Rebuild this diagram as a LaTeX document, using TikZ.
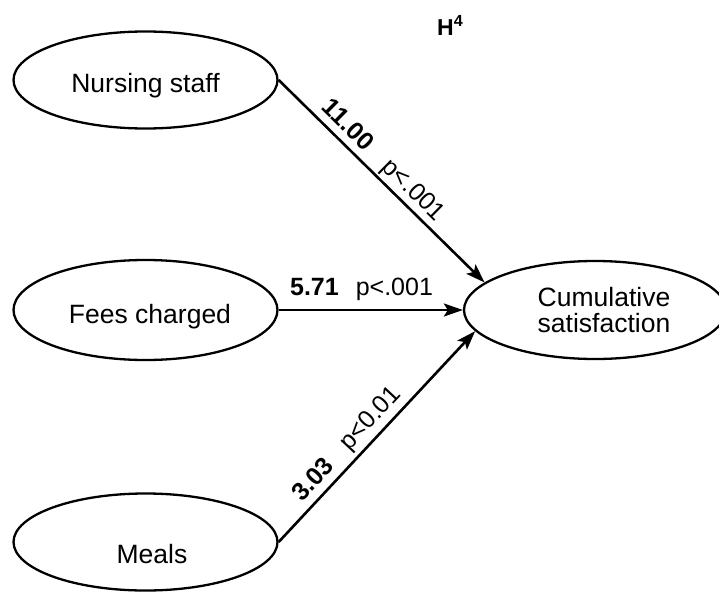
\documentclass[tikz,border=0pt]{standalone}
\usepackage{fontspec}
\setmainfont{Liberation Sans}
\usetikzlibrary{shapes.geometric,arrows.meta}
\begin{document}
\begin{tikzpicture}[x=1pt,y=-1pt,
  oval/.style={ellipse,draw,line width=2.3pt,minimum width=264pt,minimum height=97pt,inner sep=0pt},
  txt/.style={font=\fontsize{26.5}{26}\selectfont,inner sep=0pt,anchor=base,align=center},
  lbl/.style={font=\fontsize{25}{25}\selectfont,sloped,anchor=south,inner xsep=0pt,text depth=0pt},
  conn/.style={line width=2.6pt,-{Stealth[length=19pt,width=13pt,inset=4pt]}}]
\useasboundingbox (0,0) rectangle (719,594);
\node[oval] (ns) at (145.5,80) {};
\node[oval,minimum height=100pt] (fc) at (145.5,310) {};
\node[oval] (ml) at (145.5,542) {};
\node[oval,minimum width=262pt,minimum height=98pt] (cs) at (595,310) {};
\node[txt] (tns) at (145.5,92) {Nursing staff};
\node[txt] (tfc) at (150,323) {Fees charged};
\node[txt] (tml) at (152,563) {Meals};
\node[txt] (tcs) at (604,332) {Cumulative\\satisfaction};
\node[font=\fontsize{23}{23}\selectfont\bfseries,anchor=base west,inner sep=0pt] (h4) at (437,36) {H\textsuperscript{4}};
\draw[conn] (ns.east) -- (cs.166)
  node[lbl,pos=0.28,inner ysep=7.5pt] (l1) {\textbf{11.00}}
  node[lbl,pos=0.6,inner ysep=7.5pt] (l2) {p<.001};
\draw[conn] (fc.east) -- (cs.west)
  node[lbl,pos=0.45,inner ysep=13pt] (l3) {\textbf{5.71}\hspace{17pt}p<.001};
\draw[conn] (ml.east) -- (cs.190)
  node[lbl,pos=0.24,inner ysep=8.5pt] (l4) {\textbf{3.03}}
  node[lbl,pos=0.53,inner ysep=8.5pt] (l5) {p<0.01};
\end{tikzpicture}
\end{document}
